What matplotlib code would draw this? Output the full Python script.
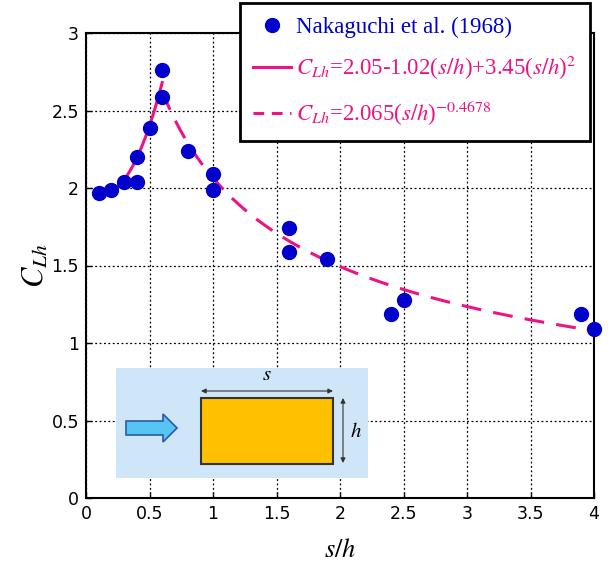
import numpy as np
import matplotlib
matplotlib.use("Agg")
import matplotlib.pyplot as plt
from matplotlib.patches import Rectangle, FancyArrow
from matplotlib.lines import Line2D

# measured points, Nakaguchi et al. (1968)
s_h = [0.1, 0.2, 0.3, 0.4, 0.4, 0.5, 0.6, 0.6, 0.8, 1.0, 1.0, 1.6, 1.6, 1.9, 2.4, 2.5, 3.9, 4.0]
c_lh = [1.97, 1.99, 2.04, 2.04, 2.2, 2.39, 2.59, 2.76, 2.24, 2.09, 1.99, 1.74, 1.59, 1.54, 1.19, 1.28, 1.19, 1.09]

# fit coefficients as written in the legend
quad_coef = [2.05, -1.02, 3.45]
quad_range = [0.1, 0.6]
pow_coef = [2.065, -0.4678]
pow_range = [0.6, 4.0]

x_ticks = [0, 0.5, 1, 1.5, 2, 2.5, 3, 3.5, 4]
y_ticks = [0, 0.5, 1, 1.5, 2, 2.5, 3]

BLUE = "#0000cc"
PINK = "#ec1384"

plt.rcParams["mathtext.fontset"] = "stix"

fig = plt.figure(figsize=(6.12, 5.67), dpi=100)
ax = fig.add_axes([86 / 612, 69 / 567, 508 / 612, 465 / 567])

xq = np.linspace(quad_range[0], quad_range[1], 100)
yq = quad_coef[0] + quad_coef[1] * xq + quad_coef[2] * xq ** 2
xp = np.linspace(pow_range[0], pow_range[1], 300)
yp = pow_coef[0] * xp ** pow_coef[1]

ax.plot(s_h, c_lh, "o", color=BLUE, markersize=10, zorder=4, clip_on=False)
ax.plot(xq, yq, "-", color=PINK, lw=2.2, zorder=3)
ax.plot(xp, yp, "--", color=PINK, lw=2.2, dashes=(6.5, 4), zorder=3)

ax.set_xlim(0, 4)
ax.set_ylim(0, 3)
ax.set_xticks(x_ticks)
ax.set_xticklabels(["0", "0.5", "1", "1.5", "2", "2.5", "3", "3.5", "4"])
ax.set_yticks(y_ticks)
ax.set_yticklabels(["0", "0.5", "1", "1.5", "2", "2.5", "3"])
ax.tick_params(direction="in", length=4, width=1, labelsize=12.5, pad=5)
ax.grid(True, color="black", linestyle=(0, (1.5, 2)), linewidth=0.9)
for sp in ax.spines.values():
    sp.set_linewidth(1.5)

ax.set_xlabel("$s/h$", fontsize=19, labelpad=10)
ax.set_ylabel("$C_{Lh}$", fontsize=22, labelpad=1)

handles = [
    Line2D([], [], marker="o", linestyle="none", color=BLUE, markersize=10),
    Line2D([], [], color=PINK, lw=2.2),
    Line2D([], [], color=PINK, lw=2.2, linestyle="--", dashes=(3.5, 2.5)),
]
labels = [
    "Nakaguchi et al. (1968)",
    "$C_{Lh}$=2.05-1.02($s/h$)+3.45($s/h$)$^2$",
    "$C_{Lh}$=2.065($s/h$)$^{-0.4678}$",
]
leg = ax.legend(handles, labels, loc="upper right",
                bbox_to_anchor=(590 / 612, 1 - 3 / 567), bbox_transform=fig.transFigure,
                borderaxespad=0, fancybox=False, framealpha=1, edgecolor="black",
                prop={"family": "Liberation Serif", "size": 16.5},
                handlelength=1.65, handletextpad=0.2, labelspacing=0.7,
                borderpad=0.6)
leg.get_frame().set_linewidth(2)
leg.set_zorder(10)
for t, c in zip(leg.get_texts(), [BLUE, PINK, PINK]):
    t.set_color(c)

# inset sketch of the rectangular section
ins = fig.add_axes([116 / 612, 89 / 567, 252 / 612, 110 / 567])
ins.set_xlim(116, 368)
ins.set_ylim(478, 368)
ins.set_facecolor("#cfe5f8")
for sp in ins.spines.values():
    sp.set_visible(False)
ins.set_xticks([])
ins.set_yticks([])

ins.add_patch(Rectangle((201, 398), 132, 66, facecolor="#ffc000",
                        edgecolor="#333333", lw=1.5))
ins.add_patch(FancyArrow(126, 428, 37, 0, width=14, head_width=28, head_length=14,
                         length_includes_head=False, facecolor="#56c5f3",
                         edgecolor="#2a5aa8", lw=1.2))
ins.annotate("", xy=(201, 391), xytext=(333, 391),
             arrowprops=dict(arrowstyle="<|-|>", color="#333333", lw=0.8,
                             mutation_scale=7, shrinkA=0, shrinkB=0))
ins.annotate("", xy=(343, 398), xytext=(343, 463),
             arrowprops=dict(arrowstyle="<|-|>", color="#333333", lw=0.8,
                             mutation_scale=7, shrinkA=0, shrinkB=0))
ins.text(267, 384, "$s$", fontsize=15, ha="center", va="bottom")
ins.text(350, 431, "$h$", fontsize=15, ha="left", va="center")

fig.savefig("out.png", dpi=100)
